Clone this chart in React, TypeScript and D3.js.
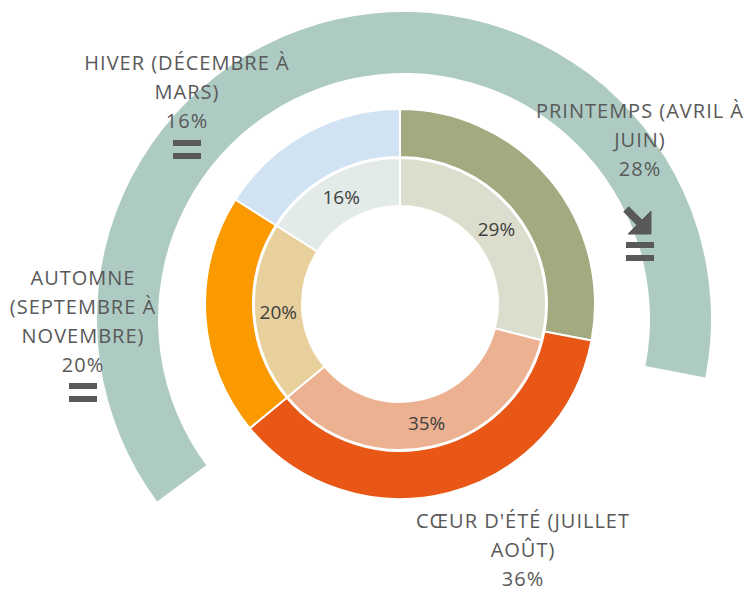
import React from "react";
import * as d3 from "d3";

// season order, clockwise from the top
const seasons = ["Printemps", "Cœur d'été", "Automne", "Hiver"];
const outerValues = [28, 36, 20, 16];
const innerValues = [29, 35, 20, 16];
const seasonLabels = [
	["PRINTEMPS (AVRIL À", "JUIN)"],
	["CŒUR D'ÉTÉ (JUILLET", "AOÛT)"],
	["AUTOMNE", "(SEPTEMBRE À", "NOVEMBRE)"],
	["HIVER (DÉCEMBRE À", "MARS)"],
];
const trends = [["down", "equal"], [], ["equal"], ["equal"]];

const outerColors = ["#a3aa80", "#e85716", "#fb9a00", "#d1e3f3"];
const innerColors = ["#dbdecc", "#ecb191", "#e8d09c", "#e3ebe8"];

// label anchor (center x, first baseline y) and icon top
const labelLayout = [
	{ x: 640, y: 118, iconY: 206 },
	{ x: 523, y: 528, iconY: 600 },
	{ x: 83, y: 285, iconY: 383 },
	{ x: 187, y: 70, iconY: 140 },
];

const width = 751;
const height = 592;
const cx = 400;
const cy = 304;

const App = () => {
	const pie = d3
		.pie<number>()
		.value((d) => d)
		.sort(null);

	const outerArc = d3.arc<d3.PieArcDatum<number>>().innerRadius(147).outerRadius(195);
	const innerArc = d3.arc<d3.PieArcDatum<number>>().innerRadius(98).outerRadius(146);

	const outerSlices = pie(outerValues);
	const innerSlices = pie(innerValues);

	// big decorative band going round the chart
	const deg = d3.scaleLinear().domain([0, 360]).range([0, 2 * Math.PI]);
	const band = d3
		.arc()
		.innerRadius(246)
		.outerRadius(307)
		.startAngle(deg(-126.5))
		.endAngle(deg(101));

	const font = "'Open Sans', 'Noto Sans', sans-serif";
	const lineH = 29;

	const equalIcon = (x: number, y: number, key: string) => (
		<g key={key} fill="#595959">
			<rect x={x - 14} y={y} width={28} height={6} />
			<rect x={x - 14} y={y + 13} width={28} height={6} />
		</g>
	);

	const downIcon = (x: number, y: number, key: string) => (
		<g key={key} fill="#595959" stroke="#595959">
			<line x1={x - 11} y1={y + 3} x2={x + 7} y2={y + 21} strokeWidth={8} />
			<path d={`M${x + 14},${y + 5} L${x + 14},${y + 28} L${x - 9},${y + 28} Z`} strokeWidth={1} />
		</g>
	);

	return (
		<svg
			width={width}
			height={height}
			style={{ position: "absolute", left: 0, top: 0, background: "#fff" }}>
			<path d={band({} as any) as string} transform={`translate(404,319)`} fill="#aecbc3" />

			<g transform={`translate(${cx},${cy})`}>
				{outerSlices.map((d, i) => (
					<path key={"o" + i} d={outerArc(d) as string} fill={outerColors[i]} stroke="#fff" strokeWidth={2} />
				))}
				{innerSlices.map((d, i) => (
					<path key={"i" + i} d={innerArc(d) as string} fill={innerColors[i]} stroke="#fff" strokeWidth={2} />
				))}
				{innerSlices.map((d, i) => {
					const [x, y] = innerArc.centroid(d);
					return (
						<text
							key={"t" + i}
							x={x}
							y={y}
							dy="0.36em"
							textAnchor="middle"
							fontFamily={font}
							fontSize={19}
							fill="#404040">
							{d.data}%
						</text>
					);
				})}
			</g>

			{seasons.map((s, i) => {
				const L = labelLayout[i];
				const lines = seasonLabels[i];
				return (
					<g key={s}>
						<text
							textAnchor="middle"
							fontFamily={font}
							fontSize={20}
							letterSpacing={1}
							fill="#595959">
							{lines.map((ln, j) => (
								<tspan key={j} x={L.x} y={L.y + j * lineH}>
									{ln}
								</tspan>
							))}
							<tspan x={L.x} y={L.y + lines.length * lineH}>
								{outerValues[i]}%
							</tspan>
						</text>
						{trends[i].map((t, k) =>
							t === "equal"
								? equalIcon(L.x, L.iconY + k * 36, s + k)
								: downIcon(L.x - 3, L.iconY + k * 36, s + k)
						)}
					</g>
				);
			})}
		</svg>
	);
};

export default App;
